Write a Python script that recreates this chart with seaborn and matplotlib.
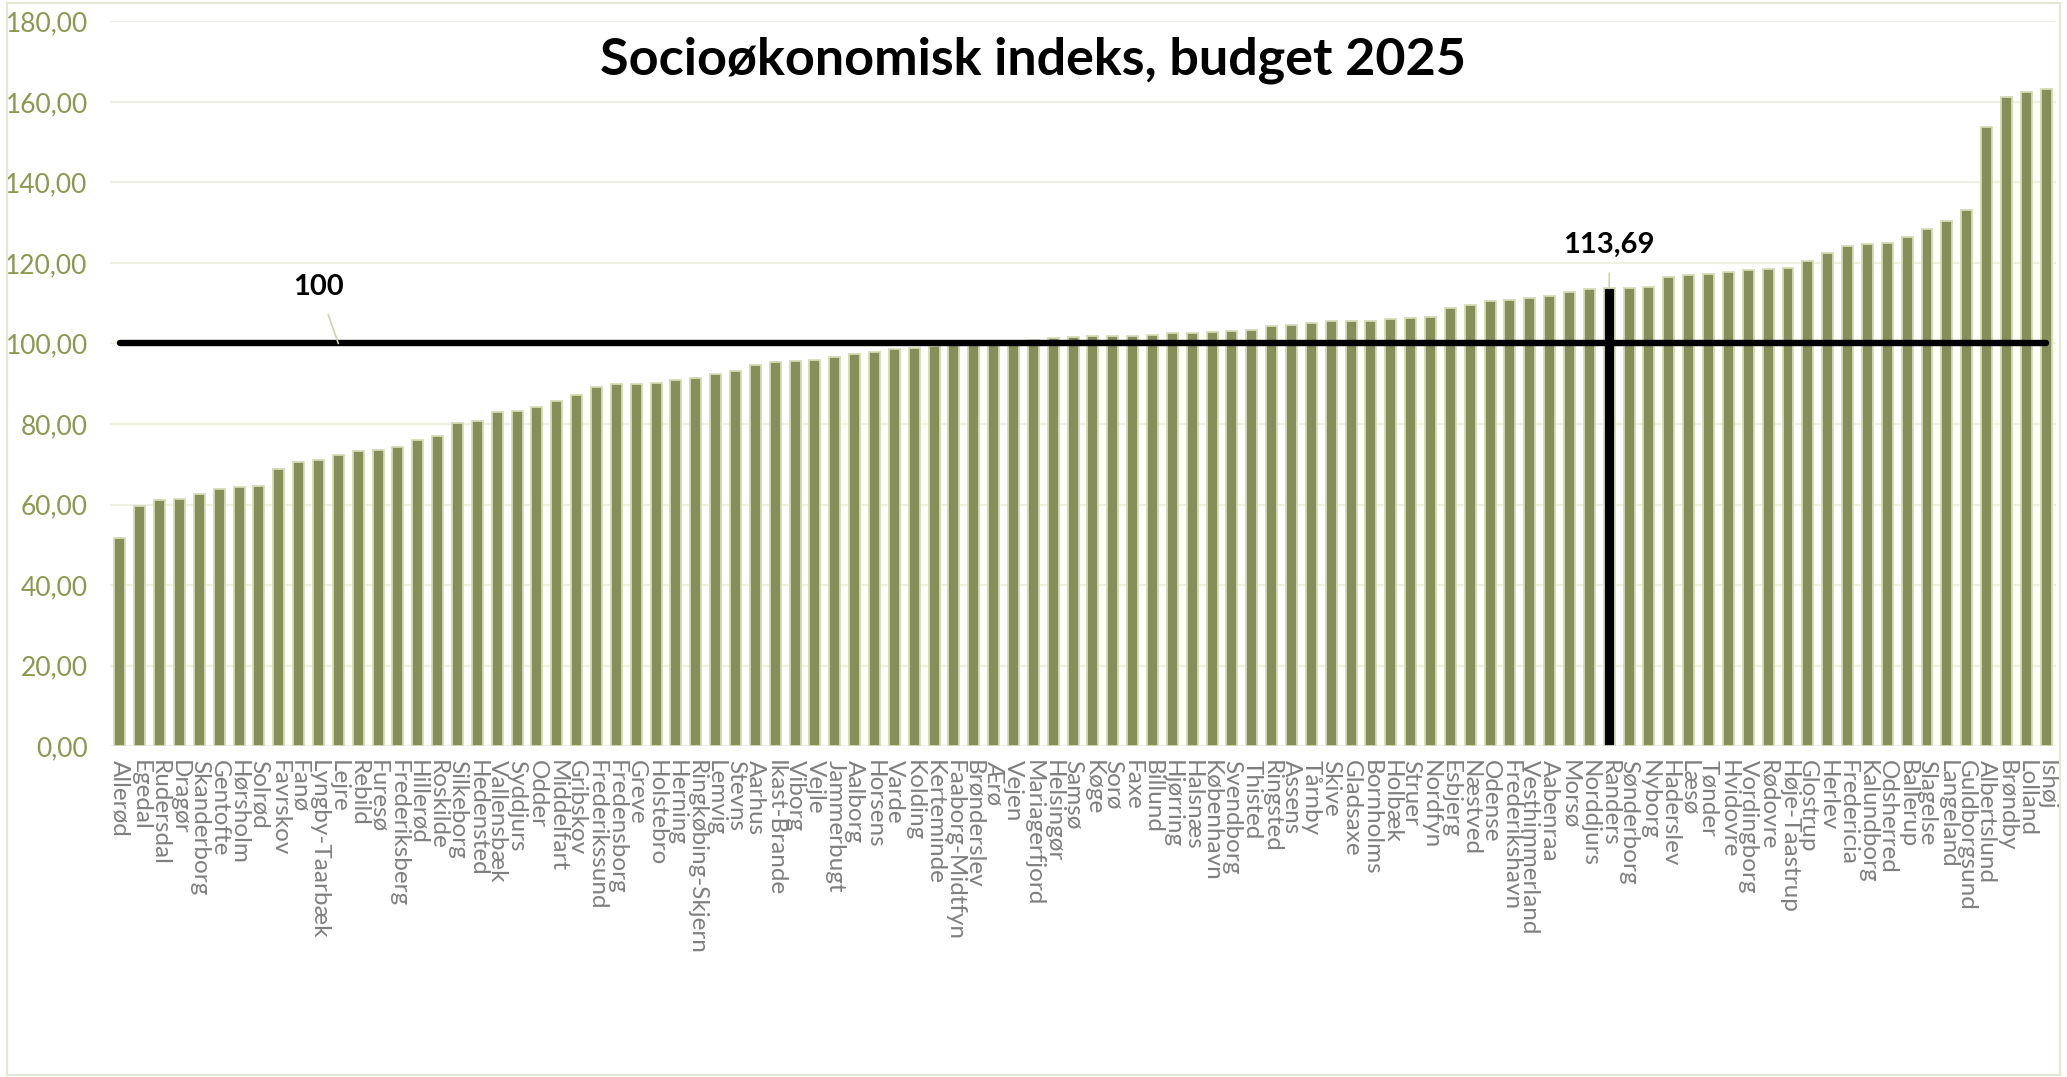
import pandas as pd
import matplotlib.pyplot as plt
import seaborn as sns
from matplotlib.patches import Rectangle

# kommuner og indeks
kommuner = [
    "Allerød", "Egedal", "Rudersdal", "Dragør", "Skanderborg", "Gentofte", "Hørsholm",
    "Solrød", "Favrskov", "Fanø", "Lyngby-Taarbæk", "Lejre", "Rebild", "Furesø",
    "Frederiksberg", "Hillerød", "Roskilde", "Silkeborg", "Hedensted", "Vallensbæk",
    "Syddjurs", "Odder", "Middelfart", "Gribskov", "Frederikssund", "Fredensborg",
    "Greve", "Holstebro", "Herning", "Ringkøbing-Skjern", "Lemvig", "Stevns", "Aarhus",
    "Ikast-Brande", "Viborg", "Vejle", "Jammerbugt", "Aalborg", "Horsens", "Varde",
    "Kolding", "Kerteminde", "Faaborg-Midtfyn", "Brønderslev", "Ærø", "Vejen",
    "Mariagerfjord", "Helsingør", "Samsø", "Køge", "Sorø", "Faxe", "Billund",
    "Hjørring", "Halsnæs", "København", "Svendborg", "Thisted", "Ringsted", "Assens",
    "Tårnby", "Skive", "Gladsaxe", "Bornholms", "Holbæk", "Struer", "Nordfyn",
    "Esbjerg", "Næstved", "Odense", "Frederikshavn", "Vesthimmerland", "Aabenraa",
    "Morsø", "Norddjurs", "Randers", "Sønderborg", "Nyborg", "Haderslev", "Læsø",
    "Tønder", "Hvidovre", "Vordingborg", "Rødovre", "Høje-Taastrup", "Glostrup",
    "Herlev", "Fredericia", "Kalundborg", "Odsherred", "Ballerup", "Slagelse",
    "Langeland", "Guldborgsund", "Albertslund", "Brøndby", "Lolland", "Ishøj",
]
indeks = [
    51.8, 59.6, 61.0, 61.4, 62.5, 63.8, 64.4, 64.6, 68.7, 70.5,
    71.1, 72.2, 73.4, 73.6, 74.3, 76.0, 77.1, 80.3, 80.7, 83.1,
    83.3, 84.2, 85.8, 87.3, 89.2, 89.9, 90.0, 90.1, 91.0, 91.4,
    92.3, 93.1, 94.6, 95.3, 95.7, 95.9, 96.6, 97.3, 98.0, 98.6,
    98.9, 99.3, 99.5, 99.7, 99.9, 100.2, 100.9, 101.3, 101.6, 101.8,
    101.8, 101.9, 102.2, 102.7, 102.7, 102.8, 103.1, 103.4, 104.3, 104.6,
    105.0, 105.6, 105.7, 105.7, 106.0, 106.3, 106.6, 108.7, 109.6, 110.6,
    110.8, 111.4, 111.9, 112.7, 113.5, 113.69, 113.8, 114.1, 116.6, 117.0,
    117.3, 117.7, 118.3, 118.6, 118.7, 120.4, 122.4, 124.1, 124.7, 125.0,
    126.5, 128.5, 130.5, 133.1, 153.8, 161.2, 162.5, 163.3,
]
landsgennemsnit = 100
fremhaevet = "Randers"
yticks = [0, 20, 40, 60, 80, 100, 120, 140, 160, 180]
ytick_labels = ["0,00", "20,00", "40,00", "60,00", "80,00", "100,00",
                "120,00", "140,00", "160,00", "180,00"]

df = pd.DataFrame({"Kommune": kommuner, "Indeks": indeks})
df["Gruppe"] = ["valgt" if k == fremhaevet else "andre" for k in kommuner]
df["Niveau"] = landsgennemsnit

sns.set_style("white")
plt.rcParams["font.family"] = ["Lato", "DejaVu Sans"]

fig = plt.figure(figsize=(20.67, 10.77), dpi=100)
ax = fig.add_axes([0.0532, 0.3073, 0.9415, 0.6728])

sns.barplot(data=df, x="Kommune", y="Indeks", hue="Gruppe",
            palette={"andre": "#8C9850", "valgt": "#000000"},
            dodge=False, width=0.55, edgecolor="#D5DCB4", linewidth=1.3,
            legend=False, ax=ax, zorder=2)

# linje ved 100
sns.lineplot(data=df, x="Kommune", y="Niveau", color="black", linewidth=4.6,
             ax=ax, zorder=3, solid_capstyle="round", sort=False)

idx_sel = kommuner.index(fremhaevet)
val_sel = indeks[idx_sel]
ax.annotate(f"{val_sel:.2f}".replace(".", ","), xy=(idx_sel, val_sel),
            xytext=(idx_sel, 124.6), ha="center", va="center",
            fontsize=21, fontweight="bold", color="black",
            arrowprops=dict(arrowstyle="-", color="#CDD2AE", lw=1.2, shrinkA=9, shrinkB=0))
ax.annotate(str(landsgennemsnit), xy=(11, landsgennemsnit), xytext=(10, 114.1),
            ha="center", va="center", fontsize=21, fontweight="bold", color="black",
            arrowprops=dict(arrowstyle="-", color="#CDD2AE", lw=1.2, shrinkA=9, shrinkB=0))

ax.set_ylim(0, 180)
ax.set_xlim(-0.5, len(kommuner) - 0.5)
ax.set_yticks(yticks)
ax.set_yticklabels(ytick_labels)
ax.yaxis.grid(True, color="#EEF0E2", linewidth=1.6, zorder=0)
ax.set_axisbelow(True)
ax.set_xlabel("")
ax.set_ylabel("")
for s in ax.spines.values():
    s.set_visible(False)

ax.tick_params(axis="y", length=0, pad=16, labelsize=19, labelcolor="#8C9850")
ax.tick_params(axis="x", length=0, pad=10, labelsize=17.5, labelcolor="#7F7F7F")
for lbl in ax.get_xticklabels():
    lbl.set_rotation(-90)
    lbl.set_ha("center")
    lbl.set_va("top")
    lbl.set_rotation_mode("default")

fig.text(0.5, 0.944, "Socioøkonomisk indeks, budget 2025", ha="center", va="center",
         fontsize=37.5, fontweight="bold", color="black")

fig.patches.append(Rectangle((0.0034, 0.002), 0.9932, 0.995, transform=fig.transFigure,
                             fill=False, edgecolor="#E4E7D4", linewidth=1.5))

fig.savefig("out.png", dpi=100)
